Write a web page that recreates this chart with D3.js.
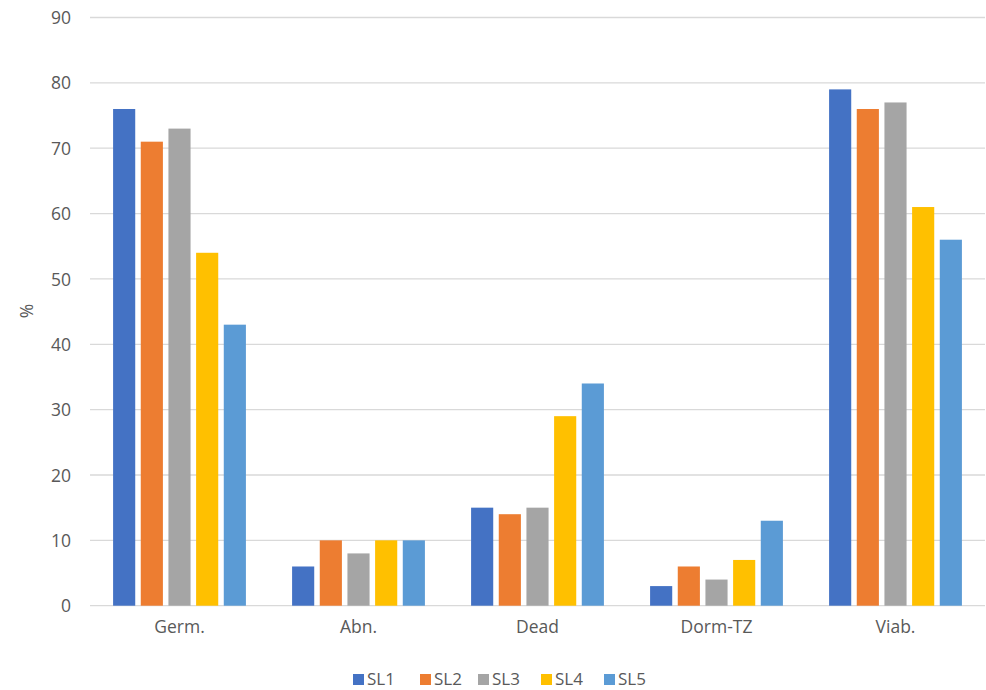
<!DOCTYPE html>
<html><head><meta charset="utf-8">
<script src="https://cdn.jsdelivr.net/npm/d3@7"></script>
<style>body{margin:0;background:#fff;} svg{display:block;}</style>
</head><body>
<svg id="c" width="986" height="690"></svg>
<script>
const categories = ["Germ.", "Abn.", "Dead", "Dorm-TZ", "Viab."];
const seriesNames = ["SL1", "SL2", "SL3", "SL4", "SL5"];
const SL1 = [76, 6, 15, 3, 79];
const SL2 = [71, 10, 14, 6, 76];
const SL3 = [73, 8, 15, 4, 77];
const SL4 = [54, 10, 29, 7, 61];
const SL5 = [43, 10, 34, 13, 56];
const yTicks = [0, 10, 20, 30, 40, 50, 60, 70, 80, 90];
const colors = ["#4472C4", "#ED7D31", "#A5A5A5", "#FFC000", "#5B9BD5"];
const seriesValues = [SL1, SL2, SL3, SL4, SL5];

const svg = d3.select("#c");
const font = "'Open Sans', 'Liberation Sans', sans-serif";
const txt = "#595959";

const x0 = d3.scaleBand().domain(categories).range([90, 985]).paddingInner(0.258).paddingOuter(0.129);
const x1 = d3.scaleBand().domain(seriesNames).range([0, x0.bandwidth()]).paddingInner(0.2).paddingOuter(0);
const y = d3.scaleLinear().domain([0, 90]).range([605.7, 17.5]);

// gridlines
svg.append("g").selectAll("line").data(yTicks).join("line")
  .attr("x1", 90).attr("x2", 985)
  .attr("y1", d => y(d)).attr("y2", d => y(d))
  .attr("stroke", "#d9d9d9").attr("stroke-width", 1.3);

// y axis labels
const yAxis = d3.axisLeft(y).tickValues(yTicks).tickSize(0).tickPadding(0);
const yg = svg.append("g").attr("transform", "translate(71,0)").call(yAxis);
yg.select(".domain").remove();
yg.selectAll("text").attr("fill", txt).style("font-family", font).style("font-size", "17.5px").attr("dy", "0.35em");

// bars
const rows = categories.map((c, i) => ({cat: c, vals: seriesNames.map((s, j) => ({s, v: seriesValues[j][i], j}))}));
const g = svg.append("g").selectAll("g").data(rows).join("g")
  .attr("transform", d => `translate(${x0(d.cat)},0)`);
g.selectAll("rect").data(d => d.vals).join("rect")
  .attr("x", d => x1(d.s)).attr("width", x1.bandwidth())
  .attr("y", d => y(d.v)).attr("height", d => y(0) - y(d.v))
  .attr("fill", d => colors[d.j]);

// x axis labels
const xAxis = d3.axisBottom(x0).tickSize(0).tickPadding(0);
const xg = svg.append("g").attr("transform", "translate(0,621)").call(xAxis);
xg.select(".domain").remove();
xg.selectAll("text").attr("fill", txt).style("font-family", font).style("font-size", "17.5px").attr("dy", "0.7em");

// y title
svg.append("text").attr("transform", "translate(33,311) rotate(-90)")
  .attr("text-anchor", "middle").attr("fill", txt)
  .style("font-family", font).style("font-size", "17.5px").text("%");

// legend
const legX = [353, 420, 478, 541, 604];
const leg = svg.append("g").selectAll("g").data(seriesNames).join("g")
  .attr("transform", (d, i) => `translate(${legX[i]},674)`);
leg.append("rect").attr("width", 11).attr("height", 11).attr("fill", (d, i) => colors[i]);
leg.append("text").attr("x", 14).attr("y", 11).attr("fill", txt)
  .style("font-family", font).style("font-size", "17px").text(d => d);
</script>
</body></html>
